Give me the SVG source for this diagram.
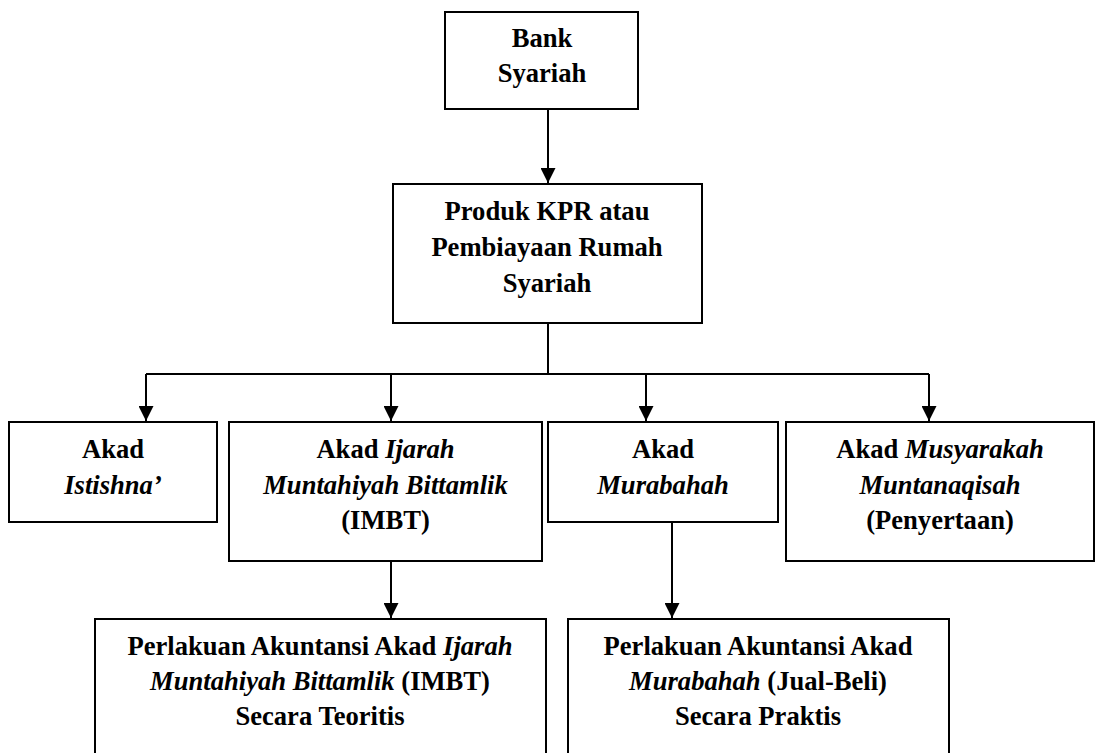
<svg xmlns="http://www.w3.org/2000/svg" width="1096" height="753" viewBox="0 0 1096 753">
<style>
.box{fill:#fff;stroke:#000;stroke-width:2}
.t{font-family:'Liberation Serif','Times New Roman',serif;font-size:26.6px;font-weight:bold;text-anchor:middle;fill:#000}
.i{font-style:italic}
.c{fill:none;stroke:#000;stroke-width:2}
</style>
<defs>
<marker id="ah" viewBox="0 0 15 15" markerWidth="15" markerHeight="15" refX="15" refY="7.5" orient="auto" markerUnits="userSpaceOnUse">
<path d="M0,0 L15,7.5 L0,15 z" fill="#000"/>
</marker>
</defs>
<rect width="1096" height="753" fill="#fff"/>
<g id="connectors">
<line class="c" x1="548" y1="109" x2="548" y2="183" marker-end="url(#ah)"/>
<polyline class="c" points="548,323 548,374"/>
<line class="c" x1="146" y1="374" x2="929" y2="374"/>
<line class="c" x1="146" y1="374" x2="146" y2="421" marker-end="url(#ah)"/>
<line class="c" x1="391" y1="374" x2="391" y2="421" marker-end="url(#ah)"/>
<line class="c" x1="646" y1="374" x2="646" y2="421" marker-end="url(#ah)"/>
<line class="c" x1="929" y1="374" x2="929" y2="421" marker-end="url(#ah)"/>
<line class="c" x1="391" y1="561" x2="391" y2="618" marker-end="url(#ah)"/>
<line class="c" x1="672" y1="522" x2="672" y2="618" marker-end="url(#ah)"/>
</g>
<g id="bank">
<rect class="box" x="445" y="12" width="193" height="97"/>
<text class="t" x="542" y="47">Bank</text>
<text class="t" x="542" y="82">Syariah</text>
</g>
<g id="produk">
<rect class="box" x="393" y="184" width="309" height="139"/>
<text class="t" x="547" y="220">Produk KPR atau</text>
<text class="t" x="547" y="256">Pembiayaan Rumah</text>
<text class="t" x="547" y="292">Syariah</text>
</g>
<g id="istishna">
<rect class="box" x="9" y="422" width="208" height="100"/>
<text class="t" x="113" y="458">Akad</text>
<text class="t i" x="113" y="494">Istishna’</text>
</g>
<g id="imbt">
<rect class="box" x="229" y="422" width="313" height="139"/>
<text class="t" x="385.5" y="458">Akad <tspan class="i">Ijarah</tspan></text>
<text class="t i" x="385.5" y="494">Muntahiyah Bittamlik</text>
<text class="t" x="385.5" y="529">(IMBT)</text>
</g>
<g id="murabahah">
<rect class="box" x="548" y="422" width="230" height="100"/>
<text class="t" x="663" y="458">Akad</text>
<text class="t i" x="663" y="494">Murabahah</text>
</g>
<g id="musyarakah">
<rect class="box" x="786" y="422" width="308" height="139"/>
<text class="t" x="940" y="458">Akad <tspan class="i">Musyarakah</tspan></text>
<text class="t i" x="940" y="494">Muntanaqisah</text>
<text class="t" x="940" y="529">(Penyertaan)</text>
</g>
<g id="akuntansi-imbt">
<rect class="box" x="95" y="619" width="451" height="150"/>
<text class="t" x="320" y="655">Perlakuan Akuntansi Akad <tspan class="i">Ijarah</tspan></text>
<text class="t" x="320" y="690"><tspan class="i">Muntahiyah Bittamlik</tspan> (IMBT)</text>
<text class="t" x="320" y="725">Secara Teoritis</text>
</g>
<g id="akuntansi-murabahah">
<rect class="box" x="568" y="619" width="381" height="150"/>
<text class="t" x="758" y="655">Perlakuan Akuntansi Akad</text>
<text class="t" x="758" y="690"><tspan class="i">Murabahah</tspan> (Jual-Beli)</text>
<text class="t" x="758" y="725">Secara Praktis</text>
</g>
</svg>
